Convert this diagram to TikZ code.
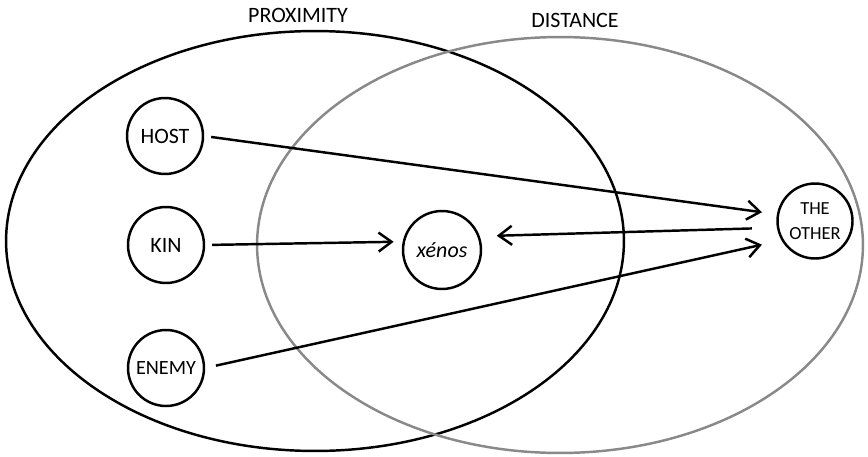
\documentclass[tikz,border=0pt]{standalone}
\usepackage{fontspec}
\setmainfont{Carlito}
\usepackage{tikz}
\usetikzlibrary{arrows.meta,positioning}
\definecolor{distG}{RGB}{137,137,137}

\begin{document}
\begin{tikzpicture}[
  x=0.02cm, y=-0.02cm,
  line width=1.4pt,
  term/.style={draw, circle, inner sep=0pt, minimum size=1.52cm, align=center, font=\fontsize{12.5}{15}\selectfont},
  heading/.style={font=\fontsize{12.5}{15}\selectfont},
  link/.style={-{Straight Barb[length=0.26cm, width=0.38cm]}}
]
\useasboundingbox (0,0) rectangle (868,456);
\draw (315,241) ellipse [x radius=6.18cm, y radius=4.2cm];
\draw[distG] (560,245) ellipse [x radius=6.06cm, y radius=4.16cm];
\node[heading] (prox) at (298,15) {PROXIMITY};
\node[heading] (dist) at (575,20) {DISTANCE};
\node[term] (host) at (165,136) {HOST};
\node[term] (kin) at (166,245) {KIN};
\node[term, font=\fontsize{11.5}{14}\selectfont] (enemy) at (166,368) {ENEMY};
\node[term, minimum size=1.56cm] (xenos) at (442,250) {\textit{xénos}};
\node[term, minimum size=1.5cm, font=\fontsize{10.5}{14}\selectfont] (other) at (815,221) {THE\\OTHER};
\draw[link, shorten <=0.14cm, shorten >=0.3cm] (host.east) -- (other.170);
\draw[link, shorten <=0.14cm, shorten >=0.18cm] (kin.east) -- (xenos.168);
\draw[link, shorten <=0.5cm, shorten >=0.34cm] (other.190) -- (xenos.20);
\draw[link, shorten <=0.22cm, shorten >=0.4cm] (enemy.east) -- (other.210);
\end{tikzpicture}
\end{document}
